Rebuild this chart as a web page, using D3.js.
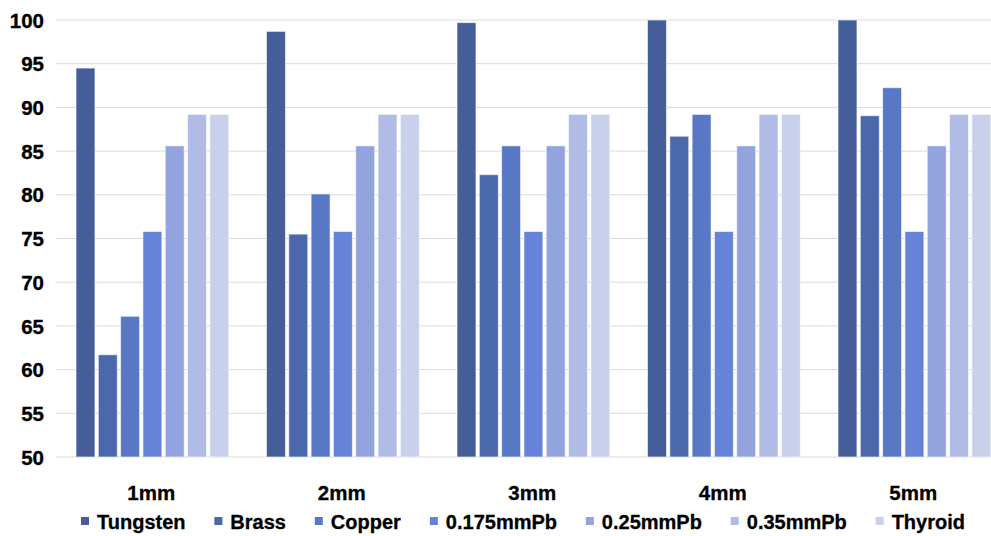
<!DOCTYPE html>
<html>
<head>
<meta charset="utf-8">
<script src="https://cdn.jsdelivr.net/npm/d3@7"></script>
<style>
  html, body { margin: 0; padding: 0; background: #fff; }
  svg { display: block; font-family: "Liberation Sans", Arial, sans-serif; }
</style>
</head>
<body>
<svg id="chart" width="991" height="536"></svg>
<script>
const categories = ["1mm", "2mm", "3mm", "4mm", "5mm"];
const seriesNames = ["Tungsten", "Brass", "Copper", "0.175mmPb", "0.25mmPb", "0.35mmPb", "Thyroid"];
const tungsten = [94.5, 98.7, 99.7, 100, 100];
const brass = [61.7, 75.5, 82.3, 86.7, 89.05];
const copper = [66.1, 80.1, 85.6, 89.2, 92.25];
const pb0175 = [75.8, 75.8, 75.8, 75.8, 75.8];
const pb025 = [85.6, 85.6, 85.6, 85.6, 85.6];
const pb035 = [89.2, 89.2, 89.2, 89.2, 89.2];
const thyroid = [89.2, 89.2, 89.2, 89.2, 89.2];
const yTicks = [50, 55, 60, 65, 70, 75, 80, 85, 90, 95, 100];
const colors = ["#455d99", "#4b68ac", "#5877c5", "#6783d7", "#92a3de", "#b0bce6", "#c8d0ec"];

const seriesValues = [tungsten, brass, copper, pb0175, pb025, pb035, thyroid];

const svg = d3.select("#chart");
const plotLeft = 56, plotRight = 991, plotTop = 20, plotBottom = 457;

const y = d3.scaleLinear().domain([50, 100]).range([plotBottom, plotTop]);
const x0 = d3.scaleBand().domain(categories).range([plotLeft, plotLeft + 5 * 190.5]).padding(0);
const x1 = d3.scaleBand().domain(seriesNames).range([20, 172.8]).paddingInner(0.15).paddingOuter(0);
const color = d3.scaleOrdinal().domain(seriesNames).range(colors);

// gridlines
svg.append("g").selectAll("line").data(yTicks).join("line")
  .attr("x1", plotLeft).attr("x2", plotRight)
  .attr("y1", d => y(d)).attr("y2", d => y(d))
  .attr("stroke", "#d9d9d9").attr("stroke-width", 1);

// y axis labels
const yAxis = d3.axisLeft(y).tickValues(yTicks).tickSize(0).tickPadding(0);
const gy = svg.append("g").attr("transform", "translate(44,0)").call(yAxis);
gy.select(".domain").remove();
gy.selectAll("text")
  .attr("font-family", "'Liberation Sans', Arial, sans-serif")
  .attr("font-size", 20.5).attr("font-weight", "bold").attr("fill", "#000")
  .attr("stroke", "#000").attr("stroke-width", 0.35)
  .attr("dy", "0.35em");

// bars
const rows = [];
categories.forEach((c, i) => {
  seriesNames.forEach((s, j) => rows.push({ cat: c, name: s, value: seriesValues[j][i] }));
});
svg.append("g").selectAll("rect").data(rows).join("rect")
  .attr("x", d => x0(d.cat) + x1(d.name))
  .attr("y", d => y(d.value))
  .attr("width", x1.bandwidth())
  .attr("height", d => y(50) - y(d.value))
  .attr("fill", d => color(d.name))
  .attr("stroke", "#ffffff").attr("stroke-opacity", 0.6).attr("stroke-width", 1);

// x axis labels
const xAxis = d3.axisBottom(x0).tickSize(0).tickPadding(0);
const gx = svg.append("g").attr("transform", "translate(0,485)").call(xAxis);
gx.select(".domain").remove();
gx.selectAll("text")
  .attr("font-family", "'Liberation Sans', Arial, sans-serif")
  .attr("font-size", 20.5).attr("font-weight", "bold").attr("fill", "#000")
  .attr("stroke", "#000").attr("stroke-width", 0.3)
  .attr("dy", "0.71em");

// legend
const legend = svg.append("g");
const items = legend.selectAll("g").data(seriesNames).join("g");
items.append("rect").attr("width", 8).attr("height", 8).attr("y", -12)
  .attr("fill", d => color(d));
items.append("text").attr("x", 16).attr("y", 0)
  .attr("font-size", 20).attr("font-weight", "bold").attr("fill", "#000")
  .attr("stroke", "#000").attr("stroke-width", 0.3)
  .text(d => d);
const widths = items.nodes().map(n => n.getBBox().width);
const legendStart = 81, legendEnd = 965;
const gap = (legendEnd - legendStart - d3.sum(widths)) / (widths.length - 1);
let start = legendStart;
items.attr("transform", (d, i) => {
  const t = `translate(${start},529)`;
  start += widths[i] + gap;
  return t;
});
</script>
</body>
</html>
